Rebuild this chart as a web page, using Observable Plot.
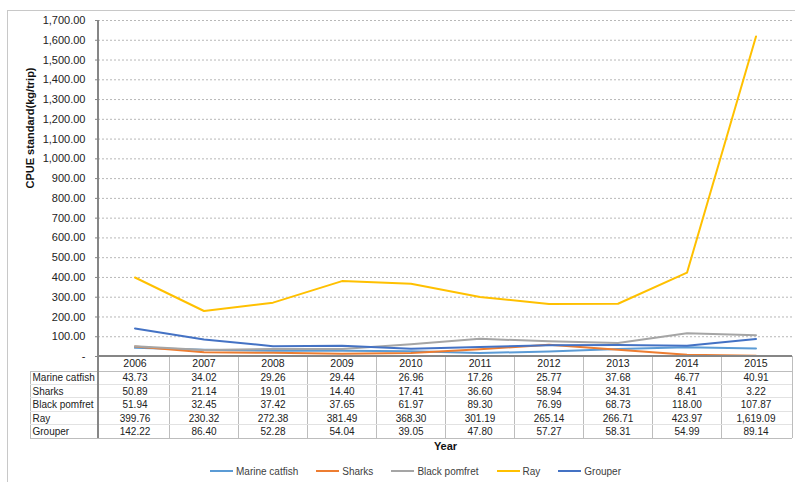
<!DOCTYPE html>
<html>
<head>
<meta charset="utf-8">
<script src="https://cdn.jsdelivr.net/npm/d3@7"></script>
<script src="https://cdn.jsdelivr.net/npm/@observablehq/plot@0.6"></script>
<style>
  body { margin: 0; background: #fff; font-family: "Liberation Sans", Arial, sans-serif; }
  #wrap { position: relative; width: 795px; height: 482px; overflow: hidden; background: #fff; }
  #border { position: absolute; left: 7px; top: 10px; width: 830px; height: 520px; border: 1px solid #c8c8c8; }
  #chart { position: absolute; left: 0; top: 0; }
  #legend { position: absolute; left: 18px; top: 462px; width: 795px; height: 18px;
            display: flex; justify-content: center; align-items: center; gap: 18px;
            font-size: 10px; color: #404040; }
  #legend .item { display: flex; align-items: center; gap: 3px; }
  #legend .swatch { width: 23px; height: 2px; }
</style>
</head>
<body>
<div id="wrap">
  <div id="border"></div>
  <div id="chart"></div>
  <div id="legend"></div>
</div>
<script>
// Survey years (columns of the data table)
const years = ["2006", "2007", "2008", "2009", "2010", "2011", "2012", "2013", "2014", "2015"];

// CPUE standard (kg/trip) per species
const marineCatfish = [43.73, 34.02, 29.26, 29.44, 26.96, 17.26, 25.77, 37.68, 46.77, 40.91];
const sharks        = [50.89, 21.14, 19.01, 14.40, 17.41, 36.60, 58.94, 34.31, 8.41, 3.22];
const blackPomfret  = [51.94, 32.45, 37.42, 37.65, 61.97, 89.30, 76.99, 68.73, 118.00, 107.87];
const ray           = [399.76, 230.32, 272.38, 381.49, 368.30, 301.19, 265.14, 266.71, 423.97, 1619.09];
const grouper       = [142.22, 86.40, 52.28, 54.04, 39.05, 47.80, 57.27, 58.31, 54.99, 89.14];

const species = ["Marine catfish", "Sharks", "Black pomfret", "Ray", "Grouper"];
const seriesValues = [marineCatfish, sharks, blackPomfret, ray, grouper];
const colors = ["#5B9BD5", "#ED7D31", "#A5A5A5", "#FFC000", "#4472C4"];

// y-axis ticks
const yTicks = d3.range(0, 1701, 100);

// long-format records for the line marks
const records = species.flatMap((name, i) =>
  years.map((year, j) => ({ species: name, year, value: seriesValues[i][j] }))
);

const fmt = d3.format(",.2f");
const rowCenters = [21, 35, 48, 62, 75];   // table row offsets below the x axis
const font = "'Liberation Sans', Arial, sans-serif";

const tableMarks = species.flatMap((name, i) => {
  const rows = records.filter(d => d.species === name);
  return [
    Plot.text(rows, {
      x: "year", text: d => fmt(d.value), frameAnchor: "bottom", lineAnchor: "middle",
      dy: rowCenters[i], fontSize: 10, fill: "#222"
    }),
    Plot.text([name], {
      text: d => d, frameAnchor: "bottom-left", textAnchor: "start", lineAnchor: "middle",
      dx: -66, dy: rowCenters[i], fontSize: 10, fill: "#222"
    })
  ];
});

const chart = Plot.plot({
  width: 795,
  height: 460,
  marginLeft: 98,
  marginRight: 3,
  marginTop: 20,
  marginBottom: 104,
  style: { fontFamily: font, background: "transparent", overflow: "visible" },
  x: { type: "band", domain: years, padding: 0, axis: null },
  y: { domain: [0, 1700], axis: null },
  color: { domain: species, range: colors },
  marks: [
    Plot.gridY(yTicks.slice(1), { stroke: "#b8b8b8", strokeOpacity: 1, strokeDasharray: "2,2" }),
    Plot.axisY(yTicks, {
      tickSize: 3, tickPadding: 10, stroke: "#868686", fill: "#222", fontSize: 11,
      tickFormat: d => d === 0 ? "-" : fmt(d), label: null
    }),
    Plot.axisX({ tickSize: 0, tickPadding: 3, fontSize: 10.5, fill: "#222", label: null }),
    Plot.lineY(records, { x: "year", y: "value", stroke: "species", strokeWidth: 2 }),
    ...tableMarks,
    Plot.text(["Year"], {
      text: d => d, frameAnchor: "bottom", lineAnchor: "middle", dy: 90,
      fontSize: 11, fontWeight: "bold", fill: "#111"
    }),
    Plot.text(["CPUE standard(kg/trip)"], {
      text: d => d, frameAnchor: "left", dx: -68, rotate: -90,
      fontSize: 11, fontWeight: "bold", fill: "#111"
    })
  ]
});

// Table grid and axis lines, positioned with the chart's own scales
const sx = chart.scale("x");
const sy = chart.scale("y");
const svg = d3.select(chart);
const left = sx.range[0], right = sx.range[1];
const y0 = sy.apply(0), yTop = sy.apply(1700);
const headerBottom = y0 + 15;
const rowH = 13.4;
const tableBottom = headerBottom + rowH * species.length;
const labelLeft = 30;
const g = svg.append("g").attr("shape-rendering", "crispEdges");

const edges = years.map(y => sx.apply(y)).concat([right]);
edges.slice(1).forEach(x => {
  g.append("line").attr("x1", x).attr("x2", x).attr("y1", y0).attr("y2", tableBottom)
    .attr("stroke", "#bdbdbd");
});
g.append("line").attr("x1", labelLeft).attr("x2", labelLeft)
  .attr("y1", headerBottom).attr("y2", tableBottom).attr("stroke", "#bdbdbd");
d3.range(1, species.length).forEach(k => {
  const y = headerBottom + rowH * k;
  g.append("line").attr("x1", labelLeft).attr("x2", right).attr("y1", y).attr("y2", y)
    .attr("stroke", "#e2e2e2");
});
[headerBottom, tableBottom].forEach(y => {
  g.append("line").attr("x1", labelLeft).attr("x2", right).attr("y1", y).attr("y2", y)
    .attr("stroke", "#bdbdbd");
});
// y axis line (continues down the table edge) and x axis line
g.append("line").attr("x1", left).attr("x2", left).attr("y1", yTop).attr("y2", tableBottom)
  .attr("stroke", "#868686").attr("stroke-width", 1.5);
g.append("line").attr("x1", left).attr("x2", right).attr("y1", y0).attr("y2", y0)
  .attr("stroke", "#868686").attr("stroke-width", 1.5);

document.getElementById("chart").appendChild(chart);

// Legend below the chart
const legend = d3.select("#legend");
species.forEach((name, i) => {
  const item = legend.append("div").attr("class", "item");
  item.append("div").attr("class", "swatch").style("background", colors[i]);
  item.append("span").text(name);
});
</script>
</body>
</html>
